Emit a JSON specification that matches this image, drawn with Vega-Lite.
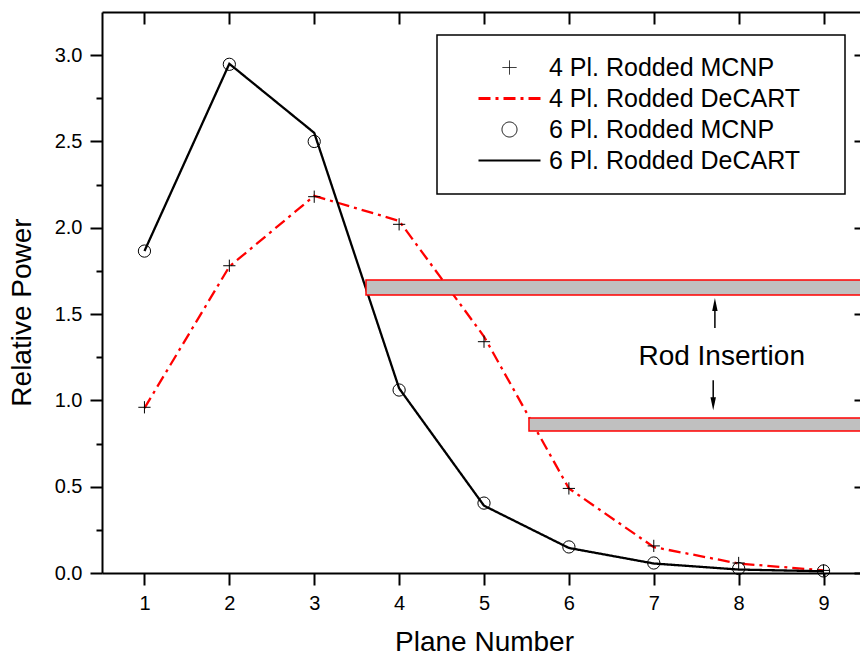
{
  "$schema": "https://vega.github.io/schema/vega-lite/v6.json",
  "width": 764,
  "height": 561,
  "autosize": {"type": "none"},
  "padding": {"left": 102, "top": 12, "right": 0, "bottom": 89},
  "background": "white",
  "config": {
    "font": "Liberation Sans",
    "view": {"stroke": null},
    "axis": {
      "labelFont": "Liberation Sans", "titleFont": "Liberation Sans",
      "labelColor": "black", "titleColor": "black",
      "domainColor": "black", "tickColor": "black",
      "domainWidth": 2, "tickWidth": 2, "grid": false,
      "labelFontSize": 20, "titleFontSize": 28, "titleFontWeight": "normal"
    },
    "legend": {"labelFont": "Liberation Sans", "labelColor": "black"}
  },
  "datasets": {
    "main": [
      {"plane": 1, "value": 0.96, "series": "4 Pl. Rodded MCNP", "kind": "MCNP"},
      {"plane": 2, "value": 1.78, "series": "4 Pl. Rodded MCNP", "kind": "MCNP"},
      {"plane": 3, "value": 2.18, "series": "4 Pl. Rodded MCNP", "kind": "MCNP"},
      {"plane": 4, "value": 2.02, "series": "4 Pl. Rodded MCNP", "kind": "MCNP"},
      {"plane": 5, "value": 1.34, "series": "4 Pl. Rodded MCNP", "kind": "MCNP"},
      {"plane": 6, "value": 0.49, "series": "4 Pl. Rodded MCNP", "kind": "MCNP"},
      {"plane": 7, "value": 0.157, "series": "4 Pl. Rodded MCNP", "kind": "MCNP"},
      {"plane": 8, "value": 0.058, "series": "4 Pl. Rodded MCNP", "kind": "MCNP"},
      {"plane": 9, "value": 0.015, "series": "4 Pl. Rodded MCNP", "kind": "MCNP"},
      {"plane": 1, "value": 0.955, "series": "4 Pl. Rodded DeCART", "kind": "DeCART"},
      {"plane": 2, "value": 1.775, "series": "4 Pl. Rodded DeCART", "kind": "DeCART"},
      {"plane": 3, "value": 2.185, "series": "4 Pl. Rodded DeCART", "kind": "DeCART"},
      {"plane": 4, "value": 2.04, "series": "4 Pl. Rodded DeCART", "kind": "DeCART"},
      {"plane": 5, "value": 1.37, "series": "4 Pl. Rodded DeCART", "kind": "DeCART"},
      {"plane": 6, "value": 0.49, "series": "4 Pl. Rodded DeCART", "kind": "DeCART"},
      {"plane": 7, "value": 0.15, "series": "4 Pl. Rodded DeCART", "kind": "DeCART"},
      {"plane": 8, "value": 0.055, "series": "4 Pl. Rodded DeCART", "kind": "DeCART"},
      {"plane": 9, "value": 0.015, "series": "4 Pl. Rodded DeCART", "kind": "DeCART"},
      {"plane": 1, "value": 1.865, "series": "6 Pl. Rodded MCNP", "kind": "MCNP"},
      {"plane": 2, "value": 2.947, "series": "6 Pl. Rodded MCNP", "kind": "MCNP"},
      {"plane": 3, "value": 2.50, "series": "6 Pl. Rodded MCNP", "kind": "MCNP"},
      {"plane": 4, "value": 1.06, "series": "6 Pl. Rodded MCNP", "kind": "MCNP"},
      {"plane": 5, "value": 0.405, "series": "6 Pl. Rodded MCNP", "kind": "MCNP"},
      {"plane": 6, "value": 0.151, "series": "6 Pl. Rodded MCNP", "kind": "MCNP"},
      {"plane": 7, "value": 0.058, "series": "6 Pl. Rodded MCNP", "kind": "MCNP"},
      {"plane": 8, "value": 0.026, "series": "6 Pl. Rodded MCNP", "kind": "MCNP"},
      {"plane": 9, "value": 0.012, "series": "6 Pl. Rodded MCNP", "kind": "MCNP"},
      {"plane": 1, "value": 1.865, "series": "6 Pl. Rodded DeCART", "kind": "DeCART"},
      {"plane": 2, "value": 2.95, "series": "6 Pl. Rodded DeCART", "kind": "DeCART"},
      {"plane": 3, "value": 2.55, "series": "6 Pl. Rodded DeCART", "kind": "DeCART"},
      {"plane": 4, "value": 1.07, "series": "6 Pl. Rodded DeCART", "kind": "DeCART"},
      {"plane": 5, "value": 0.39, "series": "6 Pl. Rodded DeCART", "kind": "DeCART"},
      {"plane": 6, "value": 0.145, "series": "6 Pl. Rodded DeCART", "kind": "DeCART"},
      {"plane": 7, "value": 0.055, "series": "6 Pl. Rodded DeCART", "kind": "DeCART"},
      {"plane": 8, "value": 0.02, "series": "6 Pl. Rodded DeCART", "kind": "DeCART"},
      {"plane": 9, "value": 0.01, "series": "6 Pl. Rodded DeCART", "kind": "DeCART"}
    ],
    "rods": [
      {"x1": 3.61, "x2": 9.5, "y1": 1.611, "y2": 1.698},
      {"x1": 5.53, "x2": 9.5, "y1": 0.823, "y2": 0.898}
    ],
    "shafts": [
      {"x": 7.72, "y1": 1.42, "y2": 1.53},
      {"x": 7.70, "y1": 1.117, "y2": 1.01}
    ],
    "uphead": [{"x": 7.72, "y": 1.555}],
    "downhead": [{"x": 7.70, "y": 0.981}],
    "notes": [{"x": 7.8, "y": 1.251, "label": "Rod Insertion"}]
  },
  "resolve": {"axis": {"x": "independent", "y": "independent"}},
  "layer": [
    {
      "data": {"name": "main"},
      "transform": [{"filter": "datum.kind === 'DeCART'"}],
      "mark": {"type": "line", "strokeWidth": 2.3},
      "encoding": {
        "x": {"field": "plane", "type": "quantitative",
          "scale": {"domain": [0.5, 9.5], "nice": false, "zero": false},
          "axis": {"orient": "bottom", "values": [1,2,3,4,5,6,7,8,9], "tickSize": 12, "labelPadding": 8,
            "title": "Plane Number", "titlePadding": 15}},
        "y": {"field": "value", "type": "quantitative",
          "scale": {"domain": [0, 3.25], "nice": false, "zero": false},
          "axis": {"orient": "left",
            "values": [0,0.25,0.5,0.75,1,1.25,1.5,1.75,2,2.25,2.5,2.75,3],
            "labelExpr": "datum.value % 0.5 === 0 ? format(datum.value, '.1f') : ''",
            "tickSize": {"condition": {"test": "datum.value % 0.5 === 0", "value": 12}, "value": 6},
            "labelPadding": 8,
            "title": "Relative Power", "titleX": -80, "titleY": 300, "titleBaseline": "middle", "titleAngle": -90, "titleAlign": "center"}},
        "color": {"field": "series", "type": "nominal",
          "scale": {"domain": ["4 Pl. Rodded MCNP", "4 Pl. Rodded DeCART", "6 Pl. Rodded MCNP", "6 Pl. Rodded DeCART"],
                    "range": ["black", "red", "black", "black"]},
          "legend": {
            "title": null, "orient": "none", "legendX": 335, "legendY": 23,
            "padding": 20, "strokeColor": "black", "fillColor": "white",
            "symbolSize": 196, "symbolOffset": 40, "labelOffset": 27, "rowPadding": 5,
            "labelFontSize": 25, "labelLimit": 500,
            "labelExpr": "datum.label + '\u00a0\u2800'",
            "encode": {
              "legend": {"update": {"strokeWidth": {"value": 1.5}}},
              "symbols": {"update": {
                "shape": {"signal": "datum.index === 0 ? 'M-1,0H1M0,-1V1' : datum.index === 2 ? 'circle' : 'M-1,0H1'"},
                "size": {"signal": "datum.index === 0 ? 196 : datum.index === 2 ? 225 : 3844"},
                "strokeDash": {"signal": "datum.index === 1 ? [13,4,3,4] : [1,0]"},
                "strokeWidth": {"signal": "datum.index === 1 ? 3 : datum.index === 3 ? 2 : 1"},
                "fill": {"value": "transparent"},
                "stroke": {"signal": "datum.index === 1 ? 'red' : 'black'"},
                "opacity": {"value": 1}
              }}
            }
          }},
        "strokeDash": {"field": "series", "type": "nominal",
          "scale": {"domain": ["4 Pl. Rodded MCNP", "4 Pl. Rodded DeCART", "6 Pl. Rodded MCNP", "6 Pl. Rodded DeCART"],
                    "range": [[1,0], [12,5,3,5], [1,0], [1,0]]},
          "legend": null}
      }
    },
    {
      "data": {"name": "rods"},
      "mark": {"type": "rect", "fill": "#c0c0c0", "stroke": "red", "strokeWidth": 1.5},
      "encoding": {
        "x": {"field": "x1", "type": "quantitative",
          "scale": {"domain": [0.5, 9.5], "nice": false, "zero": false},
          "axis": {"orient": "top", "values": [1,2,3,4,5,6,7,8,9], "tickSize": -12, "labels": false, "title": null}},
        "x2": {"field": "x2"},
        "y": {"field": "y1", "type": "quantitative",
          "scale": {"domain": [0, 3.25], "nice": false, "zero": false},
          "axis": {"orient": "right",
            "values": [0,0.25,0.5,0.75,1,1.25,1.5,1.75,2,2.25,2.5,2.75,3],
            "tickSize": {"condition": {"test": "datum.value % 0.5 === 0", "value": -12}, "value": -6},
            "labels": false, "title": null}},
        "y2": {"field": "y2"}
      }
    },
    {
      "data": {"name": "main"},
      "transform": [{"filter": "datum.kind === 'MCNP'"}],
      "mark": {"type": "point", "filled": false, "stroke": "black", "strokeWidth": 1, "size": 150, "opacity": 1},
      "encoding": {
        "x": {"field": "plane", "type": "quantitative", "scale": {"domain": [0.5, 9.5], "nice": false, "zero": false}, "axis": null},
        "y": {"field": "value", "type": "quantitative", "scale": {"domain": [0, 3.25], "nice": false, "zero": false}, "axis": null},
        "shape": {"field": "series", "type": "nominal",
          "scale": {"domain": ["4 Pl. Rodded MCNP", "6 Pl. Rodded MCNP"], "range": ["M-1,0H1M0,-1V1", "circle"]},
          "legend": null}
      }
    },
    {
      "data": {"name": "shafts"},
      "mark": {"type": "rule", "color": "black", "strokeWidth": 1.5},
      "encoding": {
        "x": {"field": "x", "type": "quantitative", "scale": {"domain": [0.5, 9.5], "nice": false, "zero": false}, "axis": null},
        "y": {"field": "y1", "type": "quantitative", "scale": {"domain": [0, 3.25], "nice": false, "zero": false}, "axis": null},
        "y2": {"field": "y2"}
      }
    },
    {
      "data": {"name": "uphead"},
      "mark": {"type": "point", "shape": "M0,-1L0.42,1L-0.42,1Z", "filled": true, "color": "black", "size": 169, "opacity": 1},
      "encoding": {
        "x": {"field": "x", "type": "quantitative", "scale": {"domain": [0.5, 9.5], "nice": false, "zero": false}, "axis": null},
        "y": {"field": "y", "type": "quantitative", "scale": {"domain": [0, 3.25], "nice": false, "zero": false}, "axis": null}
      }
    },
    {
      "data": {"name": "downhead"},
      "mark": {"type": "point", "shape": "M0,1L0.42,-1L-0.42,-1Z", "filled": true, "color": "black", "size": 169, "opacity": 1},
      "encoding": {
        "x": {"field": "x", "type": "quantitative", "scale": {"domain": [0.5, 9.5], "nice": false, "zero": false}, "axis": null},
        "y": {"field": "y", "type": "quantitative", "scale": {"domain": [0, 3.25], "nice": false, "zero": false}, "axis": null}
      }
    },
    {
      "data": {"name": "notes"},
      "mark": {"type": "text", "fontSize": 28, "font": "Liberation Sans", "color": "black", "align": "center", "baseline": "middle"},
      "encoding": {
        "x": {"field": "x", "type": "quantitative", "scale": {"domain": [0.5, 9.5], "nice": false, "zero": false}, "axis": null},
        "y": {"field": "y", "type": "quantitative", "scale": {"domain": [0, 3.25], "nice": false, "zero": false}, "axis": null},
        "text": {"field": "label"}
      }
    }
  ]
}
